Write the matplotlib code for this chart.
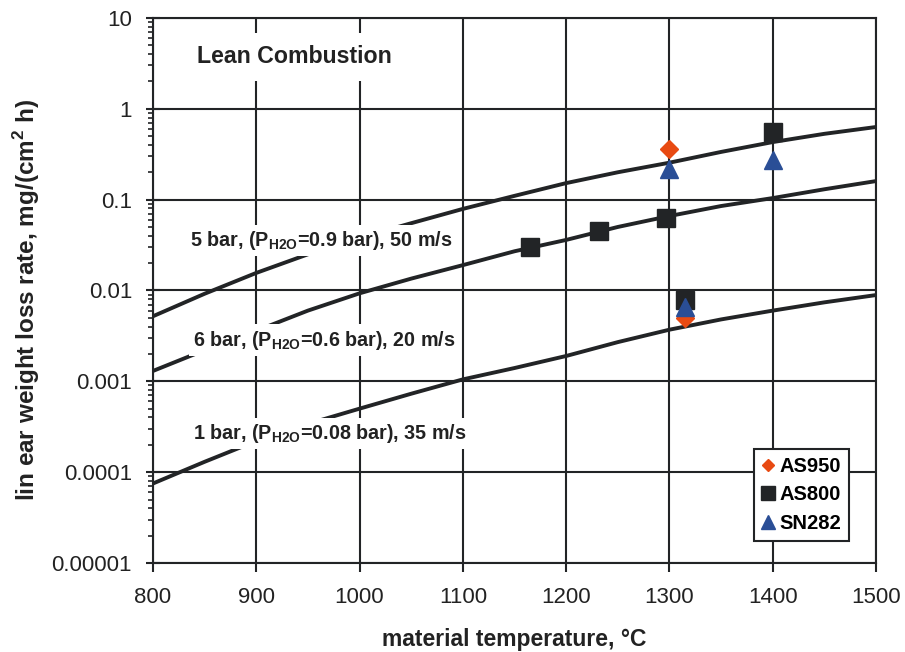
"""Lean combustion recession rates vs. material temperature."""

import matplotlib.pyplot as plt
from matplotlib.ticker import FixedLocator, FuncFormatter, LogLocator

plt.rcParams["font.family"] = ["Liberation Sans", "DejaVu Sans"]
plt.rcParams["mathtext.fontset"] = "custom"
plt.rcParams["mathtext.rm"] = "Liberation Sans"
plt.rcParams["mathtext.bf"] = "Liberation Sans:bold"

# model curves
temp_5bar = [800, 850, 900, 950, 1000, 1050, 1100, 1150, 1200, 1250, 1300, 1350, 1400, 1450, 1500]
rate_5bar = [0.0052, 0.0092, 0.0156, 0.025, 0.038, 0.055, 0.079, 0.11, 0.152, 0.2, 0.255, 0.335, 0.43, 0.53, 0.63]

temp_6bar = [800, 850, 900, 950, 1000, 1050, 1100, 1150, 1200, 1250, 1300, 1350, 1400, 1450, 1500]
rate_6bar = [0.0013, 0.0022, 0.0036, 0.006, 0.0093, 0.0135, 0.019, 0.027, 0.036, 0.05, 0.066, 0.085, 0.104, 0.13, 0.16]

temp_1bar = [800, 850, 900, 950, 1000, 1050, 1100, 1150, 1200, 1250, 1300, 1350, 1400, 1450, 1500]
rate_1bar = [0.000075, 0.00013, 0.00022, 0.00034, 0.0005, 0.00073, 0.00105, 0.0014, 0.0019, 0.0027, 0.0037, 0.0048, 0.006, 0.0074, 0.0089]

# measured points
as950_t = [1300, 1315]
as950_r = [0.36, 0.005]
as800_t = [1165, 1232, 1297, 1315, 1400]
as800_r = [0.03, 0.045, 0.062, 0.0079, 0.55]
sn282_t = [1300, 1315, 1400]
sn282_r = [0.22, 0.0066, 0.27]

ytick_vals = [1e-5, 1e-4, 1e-3, 1e-2, 1e-1, 1, 10]
ytick_labels = ["0.00001", "0.0001", "0.001", "0.01", "0.1", "1", "10"]

curve_labels = [
    (836, 0.0353, r"5 bar, (P$_{\mathbf{H2O}}$=0.9 bar), 50 m/s"),
    (839, 0.00284, r"6 bar, (P$_{\mathbf{H2O}}$=0.6 bar), 20 m/s"),
    (839, 0.000268, r"1 bar, (P$_{\mathbf{H2O}}$=0.08 bar), 35 m/s"),
]

line_color = "#222426"
text_color = "#222222"

fig = plt.figure(figsize=(9.05, 6.52), dpi=100)
ax = fig.add_axes([0.169, 0.1365, 0.799, 0.836])

for t, r in ((temp_5bar, rate_5bar), (temp_6bar, rate_6bar), (temp_1bar, rate_1bar)):
    ax.plot(t, r, color=line_color, lw=2.8, zorder=3, solid_capstyle="butt")

ax.plot(as950_t, as950_r, "D", color="#e84a12", ms=9, ls="none", label="AS950", zorder=5)
ax.plot(as800_t, as800_r, "s", color=line_color, ms=13.5, ls="none", label="AS800", zorder=4)
ax.plot(sn282_t, sn282_r, "^", color="#2a4e96", ms=13.5, ls="none", label="SN282", zorder=6)

ax.set_yscale("log")
ax.set_xlim(800, 1500)
ax.set_ylim(1e-5, 10)
ax.set_xticks(range(800, 1501, 100))
ax.yaxis.set_major_locator(FixedLocator(ytick_vals))
ax.yaxis.set_major_formatter(FuncFormatter(lambda v, p: ytick_labels[ytick_vals.index(v)] if v in ytick_vals else ""))
ax.yaxis.set_minor_locator(LogLocator(base=10, subs=range(2, 10), numticks=20))
ax.yaxis.set_minor_formatter(FuncFormatter(lambda v, p: ""))

ax.grid(True, which="major", color=line_color, lw=1.5, zorder=1)
ax.set_axisbelow(True)
for s in ax.spines.values():
    s.set_color(line_color)
    s.set_linewidth(1.5)
ax.tick_params(axis="x", which="major", labelsize=16, color=line_color, width=1.5,
               length=6.5, direction="out", pad=11, labelcolor=text_color)
ax.tick_params(axis="y", which="major", labelsize=16, color=line_color, width=1.5,
               length=10, direction="inout", pad=10, labelcolor=text_color)
ax.tick_params(axis="y", which="minor", color=line_color, width=1.2, length=3.6, direction="out")

ax.set_xlabel("material temperature, °C", fontsize=16.5, fontweight="bold", color=text_color)
ax.xaxis.label.set_va("baseline")
ax.xaxis.set_label_coords(0.5, -0.152)
ax.set_ylabel(r"lin ear weight loss rate, mg/(cm$^{\mathbf{2}}$ h)", fontsize=17.5, fontweight="bold",
              color=text_color)
ax.yaxis.set_label_coords(-0.154, 0.4826)

ax.text(842.6, 3.72, "Lean Combustion", fontsize=16.7, fontweight="bold", color=text_color,
        va="center", zorder=7,
        bbox=dict(facecolor="white", edgecolor="none", pad=9))
for x, y, txt in curve_labels:
    ax.text(x, y, txt, fontsize=14.2, fontweight="bold", color=text_color, va="center", zorder=7,
            bbox=dict(facecolor="white", edgecolor="none", pad=3))

leg = ax.legend(loc="lower right", bbox_to_anchor=(0.9627, 0.0404),
                prop={"weight": "bold", "size": 14.5}, frameon=True, fancybox=False,
                handlelength=0.6, handletextpad=0.25, borderpad=0.4, labelspacing=0.47,
                borderaxespad=0.0)
leg.get_frame().set_edgecolor(line_color)
leg.get_frame().set_linewidth(1.5)
leg.get_frame().set_alpha(1)
leg.set_zorder(8)
for h, ms in zip(leg.legend_handles, (6.6, 9.4, 9.4)):
    h.set_markersize(ms)

fig.savefig("out.png", dpi=100)
